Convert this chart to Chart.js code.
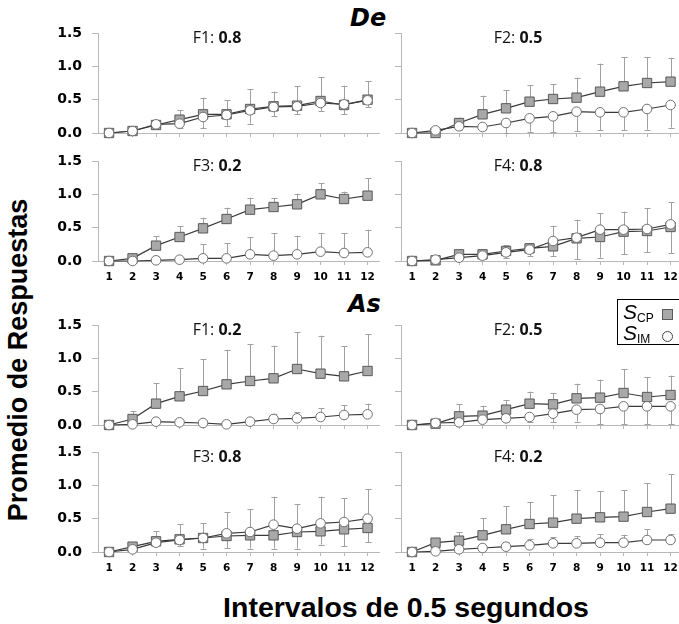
<!DOCTYPE html>
<html>
<head>
<meta charset="utf-8">
<script src="https://cdn.jsdelivr.net/npm/chart.js@4.4.0/dist/chart.umd.min.js"></script>
<style>
html, body { margin: 0; padding: 0; background: #fff; overflow: hidden; }
body { width: 679px; height: 624px; position: relative; font-family: "Liberation Sans", Arial, sans-serif; color: #000; }
canvas { position: absolute; }
.lbl { position: absolute; font-family: "Open Sans", sans-serif; font-size: 16px; color: #111; transform: translate(-50%, -50%); white-space: nowrap; }
.sec { position: absolute; font-family: "DejaVu Sans", sans-serif; font-weight: bold; font-style: italic; font-size: 24px; line-height: 24px; }
#ytitle { position: absolute; left: 18px; top: 360px; font-weight: bold; font-size: 27px; white-space: nowrap; transform: translate(-50%, -50%) rotate(-90deg); }
#xtitle { position: absolute; left: 406px; top: 607px; font-weight: bold; font-size: 28.5px; white-space: nowrap; transform: translate(-50%, -50%); }
#leyenda { position: absolute; left: 617px; top: 299px; width: 70px; height: 44px; border: 1px solid #000; background: #fff; }
.fila { position: absolute; left: 5px; height: 20px; line-height: 20px; white-space: nowrap; }
.fila i { font-size: 21px; }
.fila sub { font-size: 12px; font-style: normal; vertical-align: -3px; }
.mk { position: absolute; left: 44px; top: 6px; width: 9px; height: 9px; }
</style>
</head>
<body>
<div class="sec" style="left:350px; top:6px;">De</div>
<div class="sec" style="left:348px; top:292px;">As</div>
<div id="ytitle">Promedio de Respuestas</div>
<div id="xtitle">Intervalos de 0.5 segundos</div>

<script>
// Intervalos (eje x) y marcas del eje y
const intervalos = [1, 2, 3, 4, 5, 6, 7, 8, 9, 10, 11, 12];
const yTicks = [0, 0.5, 1.0, 1.5];

// De - F1: 0.8
const deF1_cp    = [0, 0.03, 0.12, 0.20, 0.28, 0.28, 0.36, 0.40, 0.41, 0.48, 0.42, 0.50];
const deF1_cpErr = [0, 0, 0.05, 0.14, 0.25, 0.21, 0.30, 0.22, 0.29, 0.36, 0.29, 0.28];
const deF1_im    = [0, 0.03, 0.13, 0.14, 0.24, 0.27, 0.34, 0.39, 0.40, 0.45, 0.43, 0.49];
const deF1_imErr = [0, 0, 0.03, 0.06, 0.17, 0.17, 0.20, 0.14, 0.12, 0.12, 0.15, 0.10];
// De - F2: 0.5
const deF2_cp    = [0, 0, 0.15, 0.28, 0.37, 0.47, 0.51, 0.53, 0.62, 0.70, 0.75, 0.77];
const deF2_cpErr = [0, 0, 0.08, 0.28, 0.27, 0.25, 0.22, 0.30, 0.42, 0.44, 0.39, 0.36];
const deF2_im    = [0, 0.04, 0.10, 0.09, 0.15, 0.22, 0.25, 0.32, 0.31, 0.31, 0.36, 0.42];
const deF2_imErr = [0, 0, 0.05, 0.04, 0.15, 0.20, 0.24, 0.29, 0.27, 0.27, 0.31, 0.34];
// De - F3: 0.2
const deF3_cp    = [0, 0.04, 0.23, 0.36, 0.49, 0.63, 0.77, 0.81, 0.85, 1.00, 0.93, 0.98];
const deF3_cpErr = [0, 0.02, 0.14, 0.16, 0.16, 0.17, 0.18, 0.13, 0.16, 0.17, 0.11, 0.26];
const deF3_im    = [0, 0, 0.01, 0.02, 0.04, 0.04, 0.10, 0.08, 0.10, 0.14, 0.12, 0.13];
const deF3_imErr = [0, 0, 0.06, 0.04, 0.21, 0.23, 0.26, 0.34, 0.28, 0.28, 0.30, 0.34];
// De - F4: 0.8
const deF4_cp    = [0, 0.01, 0.10, 0.10, 0.15, 0.19, 0.22, 0.34, 0.36, 0.44, 0.45, 0.51];
const deF4_cpErr = [0, 0, 0.03, 0.04, 0.09, 0.08, 0.31, 0.28, 0.36, 0.30, 0.34, 0.37];
const deF4_im    = [0, 0.02, 0.05, 0.08, 0.13, 0.17, 0.30, 0.35, 0.47, 0.47, 0.48, 0.55];
const deF4_imErr = [0, 0, 0.03, 0.05, 0.08, 0.10, 0.23, 0.32, 0.42, 0.37, 0.35, 0.43];
// As - F1: 0.2
const asF1_cp    = [0, 0.09, 0.32, 0.43, 0.51, 0.61, 0.66, 0.70, 0.84, 0.77, 0.73, 0.81];
const asF1_cpErr = [0, 0.12, 0.31, 0.42, 0.48, 0.52, 0.55, 0.49, 0.55, 0.57, 0.45, 0.55];
const asF1_im    = [0, 0.01, 0.05, 0.04, 0.03, 0.01, 0.05, 0.09, 0.10, 0.12, 0.15, 0.16];
const asF1_imErr = [0, 0, 0, 0, 0, 0, 0.03, 0.08, 0.09, 0.13, 0.15, 0.16];
// As - F2: 0.5
const asF2_cp    = [0, 0.02, 0.13, 0.14, 0.23, 0.32, 0.31, 0.40, 0.41, 0.48, 0.42, 0.45];
const asF2_cpErr = [0, 0, 0.18, 0.15, 0.14, 0.18, 0.17, 0.22, 0.27, 0.36, 0.30, 0.29];
const asF2_im    = [0, 0.03, 0.04, 0.08, 0.10, 0.12, 0.17, 0.23, 0.24, 0.28, 0.28, 0.28];
const asF2_imErr = [0, 0, 0.02, 0.04, 0.05, 0.07, 0.13, 0.18, 0.23, 0.27, 0.27, 0.27];
// As - F3: 0.8
const asF3_cp    = [0, 0.08, 0.16, 0.19, 0.21, 0.24, 0.25, 0.25, 0.30, 0.31, 0.34, 0.36];
const asF3_cpErr = [0, 0.03, 0.06, 0.10, 0.16, 0.18, 0.20, 0.20, 0.25, 0.20, 0.25, 0.21];
const asF3_im    = [0, 0.04, 0.14, 0.18, 0.21, 0.28, 0.30, 0.41, 0.35, 0.43, 0.45, 0.50];
const asF3_imErr = [0, 0, 0.17, 0.24, 0.22, 0.32, 0.34, 0.42, 0.37, 0.40, 0.36, 0.44];
// As - F4: 0.2
const asF4_cp    = [0, 0.14, 0.17, 0.25, 0.34, 0.42, 0.44, 0.50, 0.52, 0.53, 0.60, 0.65];
const asF4_cpErr = [0, 0.07, 0.13, 0.26, 0.35, 0.33, 0.41, 0.43, 0.39, 0.40, 0.43, 0.52];
const asF4_im    = [0, 0.01, 0.04, 0.06, 0.08, 0.10, 0.13, 0.13, 0.14, 0.14, 0.18, 0.18];
const asF4_imErr = [0, 0, 0.02, 0.03, 0.07, 0.10, 0.09, 0.11, 0.13, 0.12, 0.16, 0.09];

// paneles: etiqueta, fila/columna, series y sentido de la barra de error (1 arriba, -1 abajo)
const paneles = [
    { f: 'F1', p: '0.8', row: 0, col: 0, cp: deF1_cp, cpErr: deF1_cpErr, cpDir: 1, im: deF1_im, imErr: deF1_imErr, imDir: -1 },
    { f: 'F2', p: '0.5', row: 0, col: 1, cp: deF2_cp, cpErr: deF2_cpErr, cpDir: 1, im: deF2_im, imErr: deF2_imErr, imDir: -1 },
    { f: 'F3', p: '0.2', row: 1, col: 0, cp: deF3_cp, cpErr: deF3_cpErr, cpDir: 1, im: deF3_im, imErr: deF3_imErr, imDir: 1 },
    { f: 'F4', p: '0.8', row: 1, col: 1, cp: deF4_cp, cpErr: deF4_cpErr, cpDir: 1, im: deF4_im, imErr: deF4_imErr, imDir: -1 },
    { f: 'F1', p: '0.2', row: 2, col: 0, cp: asF1_cp, cpErr: asF1_cpErr, cpDir: 1, im: asF1_im, imErr: asF1_imErr, imDir: 1 },
    { f: 'F2', p: '0.5', row: 2, col: 1, cp: asF2_cp, cpErr: asF2_cpErr, cpDir: 1, im: asF2_im, imErr: asF2_imErr, imDir: -1 },
    { f: 'F3', p: '0.8', row: 3, col: 0, cp: asF3_cp, cpErr: asF3_cpErr, cpDir: -1, im: asF3_im, imErr: asF3_imErr, imDir: 1 },
    { f: 'F4', p: '0.2', row: 3, col: 1, cp: asF4_cp, cpErr: asF4_cpErr, cpDir: 1, im: asF4_im, imErr: asF4_imErr, imDir: 1 }
];

const rowTops = [33, 161, 325, 452];
const colLefts = [40, 343];
const lblX = [217, 518];

// barras de error (solo hacia un lado, con tapa)
const barrasError = {
    id: 'barrasError',
    beforeDatasetsDraw(chart) {
        const ctx = chart.ctx;
        const ys = chart.scales.y;
        ctx.save();
        ctx.strokeStyle = '#a0a0a0';
        ctx.lineWidth = 1;
        chart.data.datasets.forEach((ds, i) => {
            const meta = chart.getDatasetMeta(i);
            meta.data.forEach((pt, j) => {
                const e = ds.err[j];
                if (!e) return;
                const v = ds.data[j].y;
                const y0 = ys.getPixelForValue(v);
                const y1 = ys.getPixelForValue(v + ds.dir * e);
                const x = Math.round(pt.x) + 0.5;
                ctx.beginPath();
                ctx.moveTo(x, y0);
                ctx.lineTo(x, y1);
                ctx.moveTo(x - 3, Math.round(y1) + 0.5);
                ctx.lineTo(x + 3, Math.round(y1) + 0.5);
                ctx.stroke();
            });
        });
        ctx.restore();
    }
};

function puntos(vals) {
    return intervalos.map((x, i) => ({ x: x, y: vals[i] }));
}

paneles.forEach(pn => {
    const cv = document.createElement('canvas');
    cv.width = 340;
    cv.height = 140;
    cv.style.left = colLefts[pn.col] + 'px';
    cv.style.top = (rowTops[pn.row] - 10) + 'px';
    document.body.appendChild(cv);

    const lbl = document.createElement('div');
    lbl.className = 'lbl';
    lbl.style.left = lblX[pn.col] + 'px';
    lbl.style.top = (rowTops[pn.row] + 4) + 'px';
    lbl.innerHTML = pn.f + ': <b>' + pn.p + '</b>';
    document.body.appendChild(lbl);

    const conEtiquetasX = pn.row === 1 || pn.row === 3;
    const conEtiquetasY = pn.col === 0;

    new Chart(cv.getContext('2d'), {
        type: 'line',
        data: {
            datasets: [
                {
                    label: 'SIM',
                    data: puntos(pn.im),
                    err: pn.imErr,
                    dir: pn.imDir,
                    borderColor: '#3a3a3a',
                    borderWidth: 1.2,
                    pointStyle: 'circle',
                    pointRadius: 4.8,
                    pointBackgroundColor: '#ffffff',
                    pointBorderColor: '#707070',
                    pointBorderWidth: 1,
                    clip: false
                },
                {
                    label: 'SCP',
                    data: puntos(pn.cp),
                    err: pn.cpErr,
                    dir: pn.cpDir,
                    borderColor: '#3a3a3a',
                    borderWidth: 1.2,
                    pointStyle: 'rect',
                    pointRadius: 6.6,
                    pointBackgroundColor: '#a8a8a8',
                    pointBorderColor: '#5a5a5a',
                    pointBorderWidth: 1,
                    clip: false
                }
            ]
        },
        options: {
            responsive: false,
            animation: false,
            devicePixelRatio: 1,
            layout: { autoPadding: false, padding: { top: 10, left: 0, right: 0, bottom: 0 } },
            plugins: { legend: { display: false }, tooltip: { enabled: false } },
            elements: { line: { tension: 0 } },
            scales: {
                x: {
                    type: 'linear',
                    min: 0.53,
                    max: 12.53,
                    afterBuildTicks: s => { s.ticks = intervalos.map(v => ({ value: v })); },
                    afterFit: s => { s.height = 30; s.paddingLeft = 0; s.paddingRight = 0; },
                    grid: { drawOnChartArea: false, drawTicks: true, tickLength: 4, color: '#b8b8b8' },
                    border: { display: true, color: '#b8b8b8', width: 1 },
                    ticks: {
                        display: conEtiquetasX,
                        padding: 6,
                        maxRotation: 0,
                        autoSkip: false,
                        color: '#000',
                        font: { family: 'DejaVu Sans', size: 10.5, weight: 'bold' },
                        callback: v => String(v)
                    }
                },
                y: {
                    min: 0,
                    max: 1.5,
                    afterBuildTicks: s => { s.ticks = yTicks.map(v => ({ value: v })); },
                    afterFit: s => { s.width = 58; s.paddingTop = 0; s.paddingBottom = 0; },
                    grid: { drawOnChartArea: false, drawTicks: true, tickLength: 6, color: '#b8b8b8' },
                    border: { display: true, color: '#b8b8b8', width: 1 },
                    ticks: {
                        display: conEtiquetasY,
                        padding: 10,
                        color: '#000',
                        font: { family: 'DejaVu Sans', size: 14, weight: 'bold' },
                        callback: v => v.toFixed(1)
                    }
                }
            }
        },
        plugins: [barrasError]
    });
});
</script>

<div id="leyenda">
    <div class="fila" style="top:2px;"><i>S</i><sub>CP</sub></div>
    <div class="mk" style="top:9px; background:#a8a8a8; border:1px solid #5a5a5a;"></div>
    <div class="fila" style="top:23px;"><i>S</i><sub>IM</sub></div>
    <div class="mk" style="top:31px; background:#fff; border:1px solid #444; border-radius:50%;"></div>
</div>
</body>
</html>
